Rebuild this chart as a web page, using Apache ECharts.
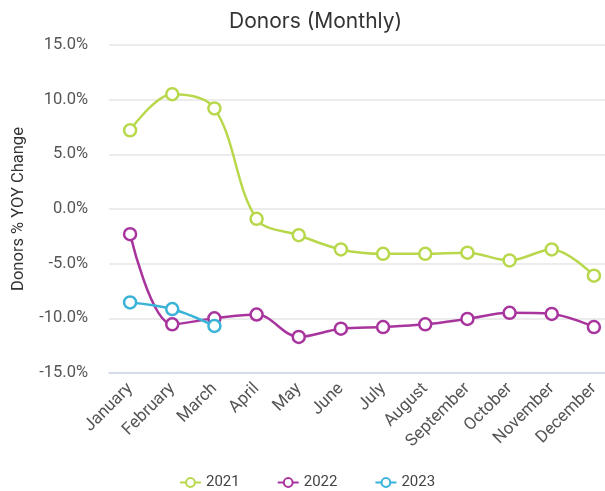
<!DOCTYPE html>
<html>
<head>
<meta charset="utf-8">
<script src="https://cdn.jsdelivr.net/npm/echarts@6/dist/echarts.min.js"></script>
<style>
  html, body { margin: 0; padding: 0; background: #fff; }
  #chart { width: 605px; height: 491px; }
</style>
</head>
<body>
<div id="chart"></div>
<script>
var months = ['January', 'February', 'March', 'April', 'May', 'June', 'July',
              'August', 'September', 'October', 'November', 'December'];
var donors2021 = [7.2, 10.5, 9.2, -0.9, -2.4, -3.7, -4.1, -4.1, -4.0, -4.7, -3.7, -6.1];
var donors2022 = [-2.3, -10.55, -10.0, -9.65, -11.7, -10.95, -10.8, -10.55, -10.05, -9.5, -9.6, -10.8];
var donors2023 = [-8.55, -9.15, -10.7];

var yMin = -15, yMax = 15, yStep = 5;

var myChart = echarts.init(document.getElementById('chart'));

function lineSeries(name, data, color) {
    return {
        name: name,
        type: 'line',
        data: data,
        smooth: 0.35,
        symbol: 'circle',
        symbolSize: 12,
        showAllSymbol: true,
        lineStyle: { color: color, width: 2.5 },
        itemStyle: { color: '#fff', borderColor: color, borderWidth: 2.5 }
    };
}

var option = {
    backgroundColor: '#fff',
    animation: false,
    title: {
        text: 'Donors (Monthly)',
        left: 224,
        top: 6,
        textStyle: { fontFamily: 'Inter', fontSize: 21, fontWeight: 'normal', color: '#333' }
    },
    legend: {
        bottom: -4,
        left: 174,
        itemGap: 37,
        itemWidth: 21,
        itemHeight: 11,
        textStyle: { fontFamily: 'Roboto', fontSize: 15, color: '#444' },
        data: ['2021', '2022', '2023']
    },
    grid: {
        left: 109, width: 506, top: 45, bottom: 118,
        outerBoundsMode: 'none'
    },
    xAxis: {
        type: 'category', data: months, boundaryGap: true,
        axisLine: { show: true, onZero: false, lineStyle: { color: '#ccd6eb', width: 1.5 } },
        axisTick: { show: false },
        axisLabel: {
            rotate: 45, interval: 0, margin: 13,
            fontFamily: 'Roboto', fontSize: 17, color: '#555'
        }
    },
    yAxis: {
        type: 'value', min: yMin, max: yMax, interval: yStep,
        name: 'Donors % YOY Change',
        nameLocation: 'middle',
        nameGap: 82,
        nameTextStyle: { fontFamily: 'Roboto', fontSize: 16.5, color: '#333' },
        axisLine: { show: false }, axisTick: { show: false },
        axisLabel: {
            fontFamily: 'Roboto', fontSize: 16.5, color: '#555', margin: 21,
            formatter: function (v) { return v.toFixed(1) + '%'; }
        },
        splitLine: { lineStyle: { color: '#e6e6e6', width: 1.5 } }
    },
    series: [
        lineSeries('2021', donors2021, '#b8d84c'),
        lineSeries('2022', donors2022, '#a8359e'),
        lineSeries('2023', donors2023, '#3ab3d8')
    ]
};

myChart.setOption(option);
</script>
</body>
</html>
